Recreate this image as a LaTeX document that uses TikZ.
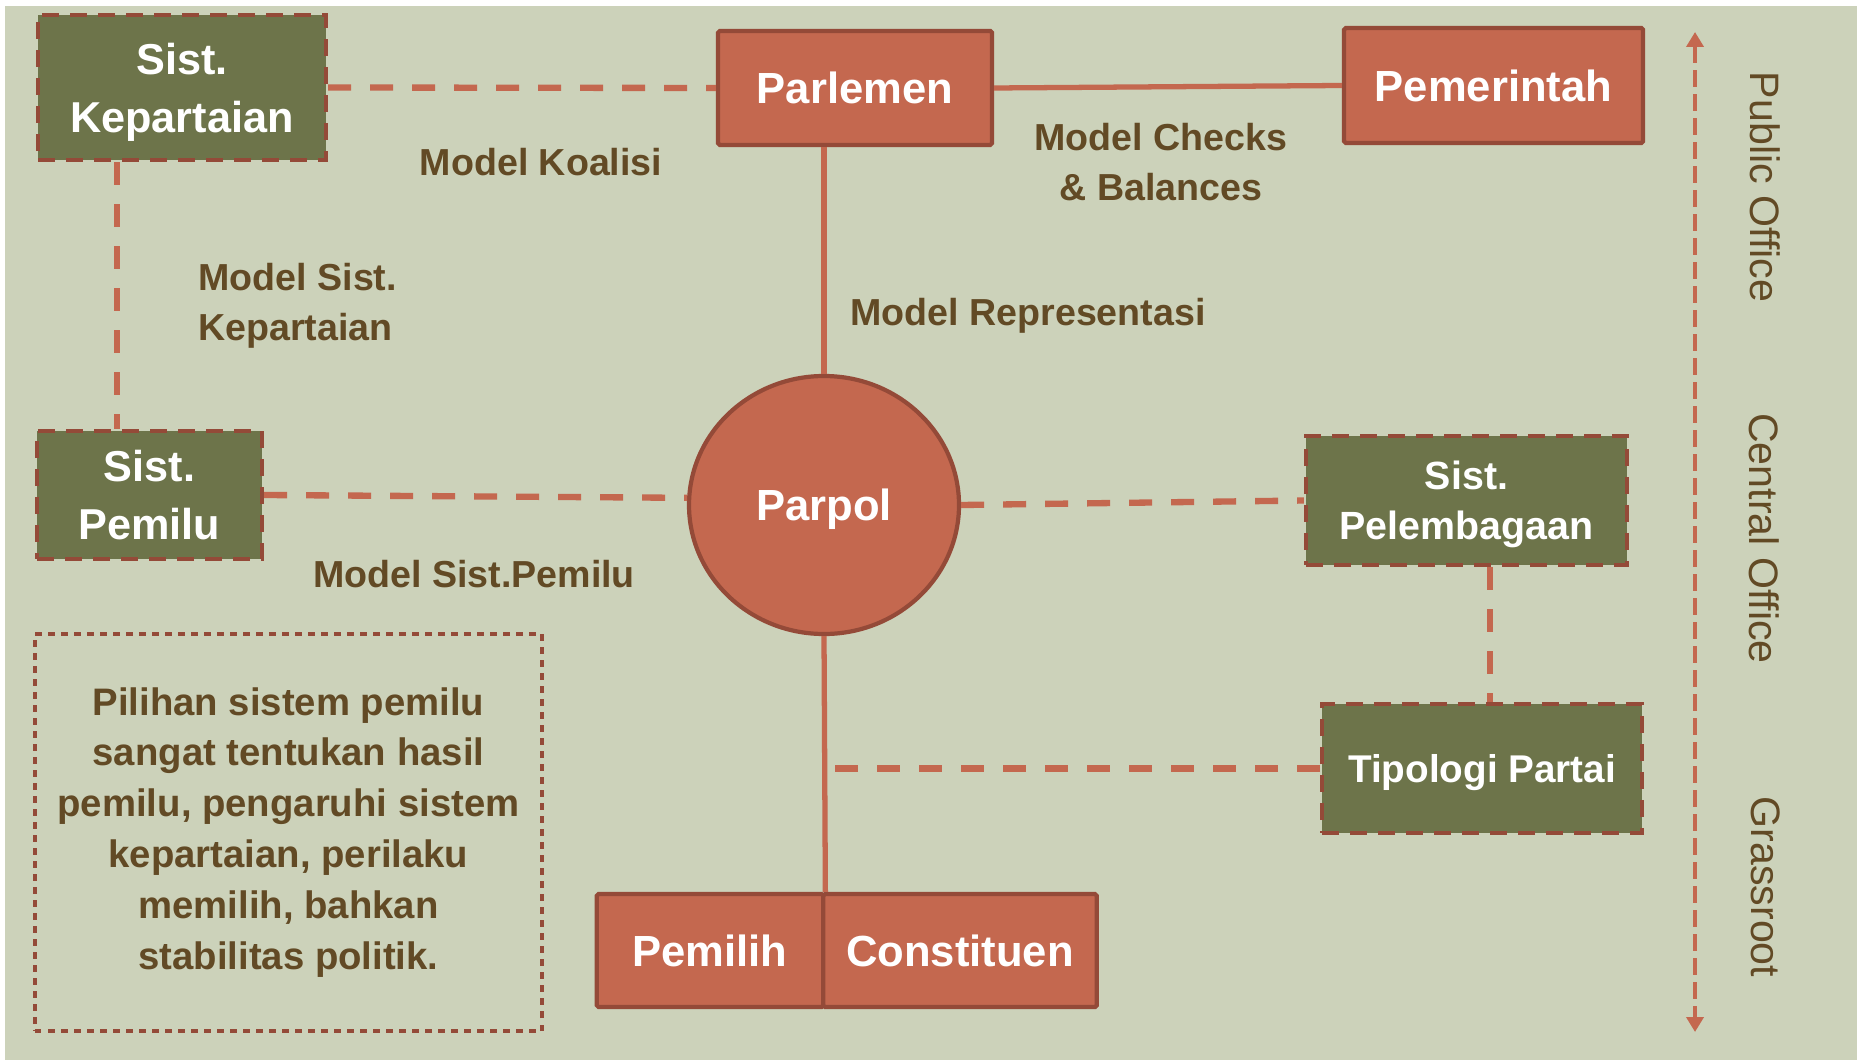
\documentclass[tikz,border=0pt]{standalone}
\usepackage{fontspec}
\setmainfont{Liberation Sans}
\usetikzlibrary{shapes.geometric,arrows.meta}

\definecolor{sage}{HTML}{CCD2BA}
\definecolor{terra}{HTML}{C4684F}
\definecolor{rust}{HTML}{944A38}
\definecolor{olive}{HTML}{6D744A}
\definecolor{bark}{HTML}{624A25}

\begin{document}
\begin{tikzpicture}[
  redbox/.style={draw=rust,line width=1.2pt,fill=terra,text=white,align=center,inner sep=0pt,
    text depth=0pt,rounded corners=0.5pt,font=\fontsize{12.4}{16.5}\selectfont\bfseries},
  greenbox/.style={draw=rust,line width=1.2pt,dash pattern=on 0.17cm off 0.11cm,fill=olive,
    text=white,align=center,inner sep=0pt,text depth=0pt,font=\fontsize{12.3}{16.5}\selectfont\bfseries},
  link/.style={draw=terra,line width=1.5pt},
  dlink/.style={draw=terra,line width=1.8pt,dash pattern=on 0.23cm off 0.19cm},
  lbl/.style={text=bark,align=center,font=\fontsize{10.7}{14.2}\selectfont\bfseries},
  level/.style={text=bark,rotate=-90,font=\fontsize{11.7}{14}\selectfont}
]
            \useasboundingbox (0,0) rectangle (18.57,-10.60);
            \fill[white] (0,0) rectangle (18.57,-10.60);
            \fill[sage] (0.05,-0.06) rectangle (18.57,-10.60);

            % boxes
            \node[greenbox,minimum width=2.88cm,minimum height=1.45cm] (kep) at (1.82,-0.875){Sist.\\Kepartaian};
            \node[redbox,minimum width=2.74cm,minimum height=1.14cm] (parl) at (8.55,-0.88){Parlemen};
            \node[redbox,minimum width=2.99cm,minimum height=1.15cm] (pem) at (14.935,-0.855){Pemerintah};
            \node[greenbox,minimum width=2.25cm,minimum height=1.28cm] (pemilu) at (1.495,-4.95){Sist.\\Pemilu};
            \node[redbox,ellipse,minimum width=2.70cm,minimum height=2.58cm] (parpol) at (8.24,-5.05){Parpol};
            \node[greenbox,minimum width=3.21cm,minimum height=1.29cm,font=\fontsize{11.2}{14.2}\selectfont\bfseries] (lemb) at (14.665,-5.005){Sist.\\Pelembagaan};
            \node[greenbox,minimum width=3.20cm,minimum height=1.29cm,font=\fontsize{11}{14}\selectfont\bfseries] (tipo) at (14.82,-7.685){Tipologi Partai};
            \node[redbox,minimum width=2.265cm,minimum height=1.13cm] (pemilih) at (7.10,-9.505){Pemilih};
            \node[redbox,minimum width=2.735cm,minimum height=1.13cm] (konst) at (9.60,-9.505){Constituen};
            \node[draw=rust,line width=1.4pt,dash pattern=on 0.065cm off 0.065cm,minimum width=5.07cm,minimum height=3.97cm,
              text=bark,align=center,font=\fontsize{10.9}{14.5}\selectfont\bfseries] (note) at (2.885,-8.325)
              {Pilihan sistem pemilu\\sangat tentukan hasil\\pemilu, pengaruhi sistem\\kepartaian, perilaku\\memilih, bahkan\\stabilitas politik.};

            % connectors
            \coordinate (kd) at (1.17,-3);
            \coordinate (ld) at (14.90,-6);
            \draw[dlink] (kep.east) -- (parl.west);
            \draw[link] (parl.east) -- (pem.west);
            \draw[link] (parl.south -| parpol.north) -- (parpol.north);
            \draw[dlink] (kep.south -| kd) -- (pemilu.north -| kd);
            \draw[dlink] (pemilu.east) -- (parpol.177);
            \draw[dlink] (parpol.east) -- (lemb.west);
            \draw[dlink] (lemb.south -| ld) -- (tipo.north -| ld);
            \draw[link] (parpol.south) -- (pemilih.north east);
            \draw[dlink] (tipo.west) -- (tipo.west -| parpol.south);

            % levels
            \coordinate (up) at (16.95,-0.32);
            \coordinate (down) at (16.95,-10.32);
            \draw[terra,line width=1.3pt,dash pattern=on 0.17cm off 0.07cm,
              {Triangle[width=0.17cm,length=0.15cm]}-{Triangle[width=0.17cm,length=0.15cm]}] (up) -- (down);
            \node[level] (po) at (17.65,-1.87){Public Office};
            \node[level] (co) at (17.64,-5.385){Central Office};
            \node[level] (gr) at (17.66,-8.87){Grassroot};

            % labels
            \node[lbl] (koal) at (5.41,-1.62){Model Koalisi};
            \node[lbl] (cb) at (11.61,-1.62){Model Checks\\\& Balances};
            \node[lbl,align=left,anchor=west] (msk) at (1.86,-3.055){Model Sist.\\Kepartaian};
            \node[lbl] (rep) at (10.28,-3.16){Model Representasi};
            \node[lbl] (msp) at (4.74,-5.74){Model Sist.Pemilu};

\end{tikzpicture}
\end{document}
